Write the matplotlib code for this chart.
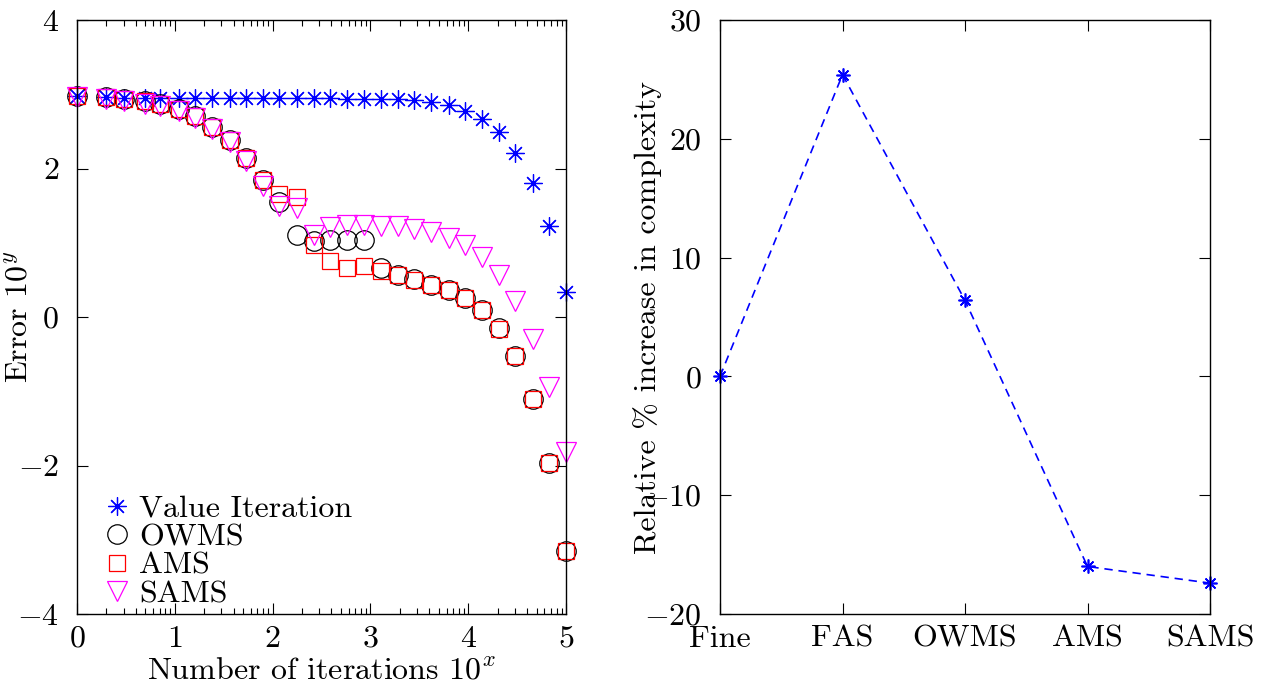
import matplotlib
matplotlib.use('Agg')
import matplotlib.pyplot as plt
import numpy as np
from matplotlib.ticker import FixedLocator

plt.rcParams['font.family'] = 'serif'
plt.rcParams['font.serif'] = ['cmr10']
plt.rcParams['mathtext.fontset'] = 'cm'
plt.rcParams['axes.formatter.use_mathtext'] = True
plt.rcParams['font.size'] = 23

# left panel: error vs number of iterations (both as log10 exponents)
iter_exp = [0.00, 0.30, 0.48, 0.70, 0.85, 1.04, 1.21, 1.38, 1.56, 1.73,
            1.90, 2.07, 2.25, 2.42, 2.59, 2.76, 2.93, 3.11, 3.28, 3.45,
            3.62, 3.80, 3.97, 4.14, 4.31, 4.48, 4.66, 4.83, 5.00]
err_vi = [2.97, 2.96, 2.95, 2.95, 2.95, 2.95, 2.95, 2.95, 2.95, 2.95,
          2.95, 2.95, 2.95, 2.95, 2.95, 2.94, 2.94, 2.94, 2.93, 2.92,
          2.89, 2.85, 2.78, 2.66, 2.49, 2.21, 1.81, 1.22, 0.34]
err_owms = [2.98, 2.96, 2.94, 2.91, 2.87, 2.80, 2.71, 2.56, 2.39, 2.14,
            1.85, 1.55, 1.11, 1.02, 1.04, 1.04, 1.04, 0.66, 0.57, 0.51,
            0.43, 0.36, 0.26, 0.10, -0.15, -0.52, -1.10, -1.97, -3.15]
err_ams = [2.98, 2.96, 2.94, 2.91, 2.87, 2.80, 2.71, 2.56, 2.39, 2.14,
           1.85, 1.65, 1.62, 0.97, 0.75, 0.66, 0.69, 0.62, 0.57, 0.50,
           0.43, 0.36, 0.26, 0.10, -0.16, -0.53, -1.10, -1.97, -3.15]
err_sams = [2.96, 2.93, 2.91, 2.87, 2.84, 2.77, 2.68, 2.53, 2.36, 2.10,
            1.76, 1.49, 1.47, 1.11, 1.21, 1.24, 1.24, 1.23, 1.22, 1.19,
            1.14, 1.07, 0.97, 0.81, 0.57, 0.21, -0.30, -0.94, -1.82]

# right panel: relative complexity
methods = ['Fine', 'FAS', 'OWMS', 'AMS', 'SAMS']
complexity = [0.0, 25.4, 6.4, -16.0, -17.4]

star = (8, 2, 0)  # matlab style asterisk

fig = plt.figure(figsize=(12.63, 6.89), dpi=100)
ax1 = fig.add_axes([77 / 1263, 75 / 689, 489 / 1263, 594 / 689])
ax2 = fig.add_axes([720 / 1263, 75 / 689, 490 / 1263, 594 / 689])

ax1.plot(iter_exp, err_vi, ls='none', marker=star, ms=13, mew=0.9, color='blue',
         label='Value Iteration', clip_on=False)
ax1.plot(iter_exp, err_owms, ls='none', marker='o', ms=14, mew=0.9, mfc='none', color='black',
         label='OWMS', clip_on=False)
ax1.plot(iter_exp, err_ams, ls='none', marker='s', ms=11, mew=0.9, mfc='none', color='red',
         label='AMS', clip_on=False)
ax1.plot(iter_exp, err_sams, ls='none', marker='v', ms=14, mew=0.9, mfc='none', color='magenta',
         label='SAMS', clip_on=False)

ax1.set_xlim(0, 5)
ax1.set_ylim(-4, 4)
ax1.set_xticks([0, 1, 2, 3, 4, 5])
ax1.set_yticks([-4, -2, 0, 2, 4])
minor = [d + np.log10(k) for d in range(5) for k in range(2, 10)]
ax1.xaxis.set_minor_locator(FixedLocator(minor))
ax1.set_xlabel(r'Number of iterations $10^x$')
ax1.set_ylabel(r'Error $10^y$')
ax1.xaxis.set_label_coords(0.5, -0.074)
ax1.yaxis.set_label_coords(-0.09, 0.5)

ax1.legend(loc='lower left', bbox_to_anchor=(0.055, 0.01), frameon=False,
           handlelength=0.8, handletextpad=0.3, labelspacing=0.0,
           borderpad=0, borderaxespad=0)

ax2.plot(range(len(methods)), complexity, ls='--', dashes=(5, 3.5), lw=1.2,
         marker=star, ms=10, mew=1.2, color='blue', clip_on=False)
ax2.set_xlim(0, 4)
ax2.set_ylim(-20, 30)
ax2.set_xticks(range(len(methods)))
ax2.set_xticklabels(methods)
ax2.set_yticks([-20, -10, 0, 10, 20, 30])
ax2.set_ylabel('Relative % increase in complexity')
ax2.yaxis.set_label_coords(-0.118, 0.5)

for ax in (ax1, ax2):
    ax.tick_params(which='both', direction='in', top=True, right=True, width=0.8)
    ax.tick_params(which='major', length=8)
    ax.tick_params(which='minor', length=4)
    ax.tick_params(axis='x', which='major', pad=8)
    ax.tick_params(axis='y', which='major', pad=13)
    for s in ax.spines.values():
        s.set_linewidth(1.0)

fig.savefig('out.png', dpi=100)
